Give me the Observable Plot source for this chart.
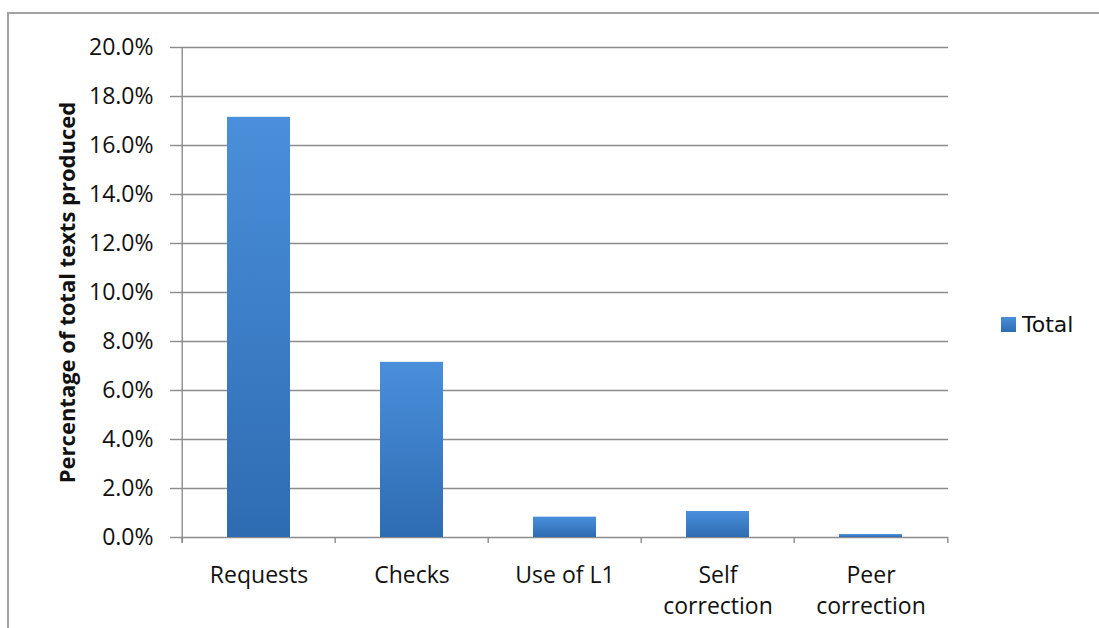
<!DOCTYPE html>
<html>
<head>
<meta charset="utf-8">
<script src="https://cdn.jsdelivr.net/npm/d3@7"></script>
<script src="https://cdn.jsdelivr.net/npm/@observablehq/plot@0.6"></script>
<style>
  html, body { margin: 0; padding: 0; background: #fff; }
  #wrap { position: relative; width: 1099px; height: 628px; overflow: hidden; }
  #frame { position: absolute; left: 7px; top: 12px; width: 1200px; height: 700px;
           border-left: 2px solid #a3a3a3; border-top: 2px solid #a3a3a3; }
  #chart { position: absolute; left: 0; top: 0; }
  #legend { position: absolute; left: 1001px; top: 312px; display: flex; align-items: center;
            font-family: "DejaVu Sans", sans-serif; font-size: 22px; color: #111; }
  #legend .sw { width: 15px; height: 15px; margin-right: 6px;
                background: linear-gradient(#4a8fdb, #2d6cb2); }
</style>
</head>
<body>
<div id="wrap">
  <div id="frame"></div>
  <div id="chart"></div>
  <div id="legend"><span class="sw"></span><span>Total</span></div>
</div>
<script>
// Share of all texts produced that contain each feature (percent)
const categories = ["Requests", "Checks", "Use of L1", "Self\ncorrection", "Peer\ncorrection"];
const totals = [17.15, 7.15, 0.83, 1.06, 0.12];
const yTicks = [0, 2, 4, 6, 8, 10, 12, 14, 16, 18, 20];
const yLabel = "Percentage of total texts produced";

const data = categories.map((c, i) => ({category: c, value: totals[i]}));

const W = 1099, H = 628;
const mL = 180, mR = 151, mT = 47, mB = 91;
const step = (W - mL - mR) / categories.length;
const gray = "#8c8c8c";

const plot = Plot.plot({
  width: W,
  height: H,
  marginLeft: mL,
  marginRight: mR,
  marginTop: mT,
  marginBottom: mB,
  style: {fontFamily: "'Open Sans', sans-serif", fontSize: "23px", color: "#111", background: "transparent"},
  x: {domain: categories, paddingInner: 0.59, paddingOuter: 0.295, label: null},
  y: {domain: [0, 20], label: null},
  marks: [
    Plot.gridY(yTicks, {stroke: gray, strokeOpacity: 1, strokeWidth: 1.4}),
    Plot.axisY(yTicks, {tickSize: 10, tickPadding: 17, stroke: gray, strokeWidth: 1.4,
      tickFormat: d => d.toFixed(1) + "%", label: null}),
    Plot.axisX({tickSize: 0, tickPadding: 24, lineHeight: 1.33, label: null}),
    // category boundary ticks below the baseline
    Plot.ruleX(categories, {x: d => d, dx: -step / 2, y1: 0, y2: 0, insetTop: 6, stroke: gray, strokeWidth: 1.4}),
    Plot.ruleX(categories.slice(-1), {x: d => d, dx: step / 2, y1: 0, y2: 0, insetTop: 6, stroke: gray, strokeWidth: 1.4}),
    // vertical value axis line
    Plot.ruleX(categories.slice(0, 1), {x: d => d, dx: -step / 2, y1: 0, y2: 20, insetTop: 6, stroke: gray, strokeWidth: 1.4}),
    Plot.barY(data, {x: "category", y: "value", fill: "url(#barGrad)"}),
    Plot.text([yLabel], {frameAnchor: "left", textAnchor: "middle", rotate: -90, dx: -113,
      fontWeight: "bold", fontSize: 22, fill: "#111"})
  ]
});

// vertical shading used by the bars
const defs = d3.select(plot).insert("defs", ":first-child");
const grad = defs.append("linearGradient").attr("id", "barGrad")
  .attr("x1", 0).attr("y1", 0).attr("x2", 0).attr("y2", 1);
grad.append("stop").attr("offset", "0%").attr("stop-color", "#4a8fdb");
grad.append("stop").attr("offset", "100%").attr("stop-color", "#2e6cb2");

document.getElementById("chart").appendChild(plot);
</script>
</body>
</html>
